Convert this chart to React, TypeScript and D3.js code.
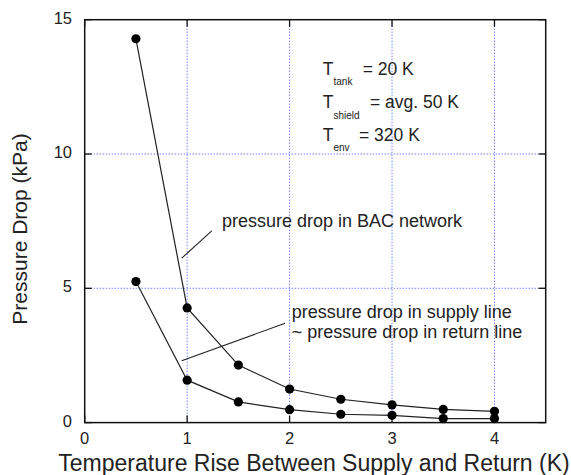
import React from "react";
import * as d3 from "d3";

const xValues = [0.5, 1, 1.5, 2, 2.5, 3, 3.5, 4];
const bacNetwork = [14.29, 4.27, 2.14, 1.25, 0.87, 0.66, 0.49, 0.42];
const supplyLine = [5.25, 1.58, 0.77, 0.48, 0.31, 0.27, 0.15, 0.15];
const xTicks = [0, 1, 2, 3, 4];
const yTicks = [0, 5, 10, 15];
const xGrid = [1, 2, 3, 4];
const yGrid = [5, 10];

const W = 571;
const H = 475;
const m = { left: 84.7, right: 545.7, top: 19.7, bottom: 422.6 };
const FONT = "'Liberation Sans', Arial, sans-serif";
const TXT = "#222";

export default function App() {
  const x = d3.scaleLinear().domain([0, 4.5]).range([m.left, m.right]);
  const y = d3.scaleLinear().domain([0, 15]).range([m.bottom, m.top]);
  const line = d3
    .line<number>()
    .x((_, i) => x(xValues[i]))
    .y((d) => y(d));
  const series = [bacNetwork, supplyLine];
  const tl = 7;

  return (
    <svg
      width={W}
      height={H}
      style={{ position: "absolute", left: 0, top: 0, background: "#fff" }}
      fontFamily={FONT}
    >
      <rect x={0} y={0} width={W} height={H} fill="#fff" />
      {xGrid.map((v) => (
        <line
          key={"gx" + v}
          x1={x(v)}
          x2={x(v)}
          y1={m.top}
          y2={m.bottom}
          stroke="#3a4dff"
          strokeWidth={1}
          strokeDasharray="1,2"
        />
      ))}
      {yGrid.map((v) => (
        <line
          key={"gy" + v}
          x1={m.left}
          x2={m.right}
          y1={y(v)}
          y2={y(v)}
          stroke="#3a4dff"
          strokeWidth={1}
          strokeDasharray="1,2"
        />
      ))}
      {xTicks.map((v) => (
        <g key={"tx" + v}>
          <line x1={x(v)} x2={x(v)} y1={m.bottom} y2={m.bottom - tl} stroke="#111" strokeWidth={1.3} />
          <line x1={x(v)} x2={x(v)} y1={m.top} y2={m.top + tl} stroke="#111" strokeWidth={1.3} />
          <text x={x(v)} y={438} textAnchor="middle" dominantBaseline="central" fontSize={16.5} fill={TXT}>
            {v}
          </text>
        </g>
      ))}
      {yTicks.map((v) => (
        <g key={"ty" + v}>
          <line x1={m.left} x2={m.left + tl} y1={y(v)} y2={y(v)} stroke="#111" strokeWidth={1.3} />
          <line x1={m.right} x2={m.right - tl} y1={y(v)} y2={y(v)} stroke="#111" strokeWidth={1.3} />
          <text x={72} y={y(v) - 2} textAnchor="end" dominantBaseline="central" fontSize={16.5} fill={TXT}>
            {v}
          </text>
        </g>
      ))}
      <rect
        x={m.left}
        y={m.top}
        width={m.right - m.left}
        height={m.bottom - m.top}
        fill="none"
        stroke="#111"
        strokeWidth={1.5}
      />
      {series.map((s, k) => (
        <g key={"s" + k}>
          <path d={line(s) || ""} fill="none" stroke="#222" strokeWidth={1.2} />
          {s.map((v, i) => (
            <circle key={i} cx={x(xValues[i])} cy={y(v)} r={4.6} fill="#000" />
          ))}
        </g>
      ))}
      <line x1={x(1.24)} y1={y(7.14)} x2={x(0.947)} y2={y(6.12)} stroke="#222" strokeWidth={1.1} />
      <text x={x(1.34)} y={y(7.51)} dominantBaseline="central" fontSize={18} fill={TXT}>
        pressure drop in BAC network
      </text>
      <line x1={x(1.956)} y1={y(3.7)} x2={x(0.947)} y2={y(2.3)} stroke="#222" strokeWidth={1.1} />
      <text x={x(2.02)} y={y(4.11)} dominantBaseline="central" fontSize={18} fill={TXT}>
        pressure drop in supply line
      </text>
      <text x={x(2.02)} y={y(3.37)} dominantBaseline="central" fontSize={18} fill={TXT}>
        ~ pressure drop in return line
      </text>
      {[
        { sub: "tank", rest: "= 20 K", yv: 13.17, restX: 362.7 },
        { sub: "shield", rest: "= avg. 50 K", yv: 11.92, restX: 370 },
        { sub: "env", rest: "= 320 K", yv: 10.72, restX: 359 },
      ].map((r) => (
        <g key={r.sub}>
          <text x={322.7} y={y(r.yv)} dominantBaseline="central" fontSize={17.5} fill={TXT}>
            T
          </text>
          <text x={333.5} y={y(r.yv) + 13} dominantBaseline="central" fontSize={10} fill={TXT}>
            {r.sub}
          </text>
          <text x={r.restX} y={y(r.yv)} dominantBaseline="central" fontSize={17.5} fill={TXT}>
            {r.rest}
          </text>
        </g>
      ))}
      <text x={314} y={463} textAnchor="middle" dominantBaseline="central" fontSize={23} fill={TXT}>
        Temperature Rise Between Supply and Return (K)
      </text>
      <text
        transform={`translate(19,229) rotate(-90)`}
        textAnchor="middle"
        dominantBaseline="central"
        fontSize={21}
        fill={TXT}
      >
        Pressure Drop (kPa)
      </text>
    </svg>
  );
}
